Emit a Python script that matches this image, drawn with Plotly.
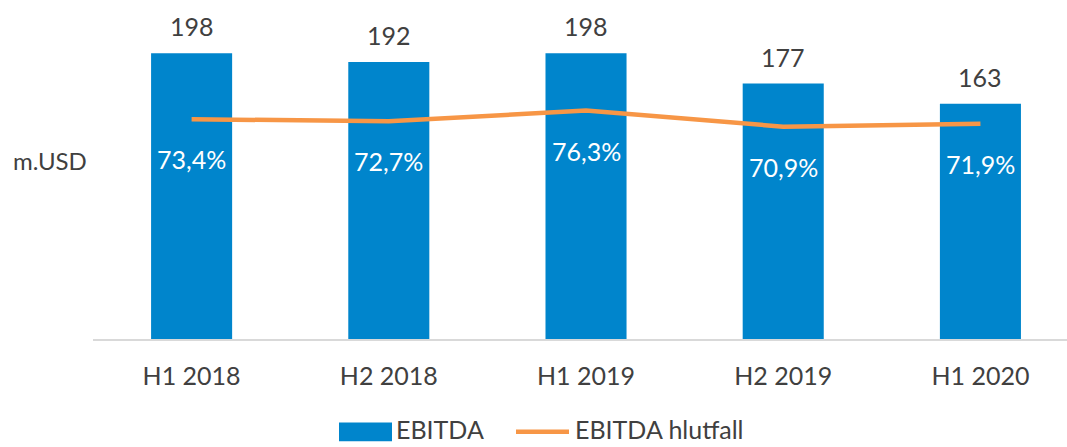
import plotly.graph_objects as go

categories = ["H1 2018", "H2 2018", "H1 2019", "H2 2019", "H1 2020"]
ebitda = [198, 192, 198, 177, 163]
ratio = [73.4, 72.7, 76.3, 70.9, 71.9]
ratio_labels = ["73,4%", "72,7%", "76,3%", "70,9%", "71,9%"]
legend_names = ["EBITDA", "EBITDA hlutfall"]

BLUE = "#0085CC"
ORANGE = "#F79646"
TXT = "#404040"
FONT = "Lato"

W, H = 1067, 447
L, R, T, B = 93, 0, 0, 107.5
PW, PH = W - L - R, H - T - B


def px(x):
    return (x - L) / PW


def py(y):
    return (H - B - y) / PH


fig = go.Figure()
fig.add_trace(go.Bar(x=categories, y=ebitda, name=legend_names[0],
                     marker=dict(color=BLUE, line=dict(width=0)), yaxis="y"))
fig.add_trace(go.Scatter(x=categories, y=ratio, name=legend_names[1], mode="lines",
                         line=dict(color=ORANGE, width=4.5), yaxis="y2"))

ann = []
for c, v in zip(categories, ebitda):
    ann.append(dict(x=c, y=v, xref="x", yref="y", text=str(v), showarrow=False,
                    yshift=27, font=dict(family=FONT, size=25, color=TXT)))
for c, v, t in zip(categories, ratio, ratio_labels):
    ann.append(dict(x=c, y=v, xref="x", yref="y2", text=t, showarrow=False,
                    yshift=-40, font=dict(family=FONT, size=25, color="white")))
ann.append(dict(x=px(11), xanchor="left", y=py(161), yanchor="middle", xref="paper", yref="paper",
                text="m.USD", showarrow=False, font=dict(family=FONT, size=24, color=TXT)))
# custom legend
ann.append(dict(x=px(394), xanchor="left", y=py(430), yanchor="middle", xref="paper", yref="paper",
                text=legend_names[0], showarrow=False, font=dict(family=FONT, size=25, color=TXT)))
ann.append(dict(x=px(573), xanchor="left", y=py(430), yanchor="middle", xref="paper", yref="paper",
                text=legend_names[1], showarrow=False, font=dict(family=FONT, size=25, color=TXT)))

shapes = [
    dict(type="rect", xref="paper", yref="paper", x0=px(339), x1=px(392), y0=py(442), y1=py(423),
         fillcolor=BLUE, line=dict(width=0)),
    dict(type="line", xref="paper", yref="paper", x0=px(516), x1=px(569), y0=py(432.5), y1=py(432.5),
         line=dict(color=ORANGE, width=4.5)),
]

fig.update_layout(
    width=W, height=H,
    margin=dict(l=L, r=R, t=T, b=B),
    plot_bgcolor="white", paper_bgcolor="white",
    font=dict(family=FONT, size=25, color=TXT),
    bargap=0.589,
    showlegend=False,
    xaxis=dict(type="category", range=[-0.5, 4.439], showline=True, linecolor="#D9D9D9", linewidth=2,
               ticks="", showgrid=False, ticklabelstandoff=14, automargin=False,
               tickfont=dict(family=FONT, size=25, color=TXT)),
    yaxis=dict(range=[0, 234.9], visible=False, showgrid=False),
    yaxis2=dict(range=[0, 113.2], overlaying="y", visible=False, showgrid=False),
    annotations=ann,
    shapes=shapes,
)

fig.write_html("out.html")
